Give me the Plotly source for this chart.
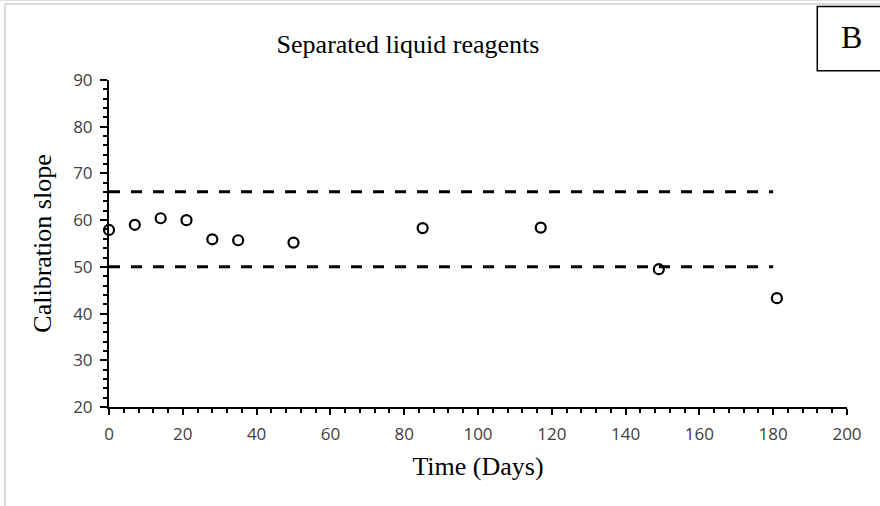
import plotly.graph_objects as go

# Data
days = [0, 7, 14, 21, 28, 35, 50, 85, 117, 149, 181]
slope = [57.9, 59.0, 60.4, 60.0, 55.9, 55.7, 55.2, 58.3, 58.4, 49.5, 43.3]
limit_x = [0, 180]
upper_limit = [66.1, 66.1]
lower_limit = [50.0, 50.0]

title_text = "Separated liquid reagents"
x_title = "Time (Days)"
y_title = "Calibration slope"
panel_label = "B"

W, H = 880, 506
L, R, T, B = 109.3, 33.3, 80.3, 99.3
pw = W - L - R
ph = H - T - B

def px(x):
    return (x - L) / pw

def py(y):
    return (H - B - y) / ph

serif = "Liberation Serif, Times New Roman, serif"
sans = "Open Sans, Noto Sans, sans-serif"

fig = go.Figure()
dash = "11px,11px"
fig.add_trace(go.Scatter(x=limit_x, y=upper_limit, mode="lines",
                         line=dict(color="black", width=3, dash=dash),
                         showlegend=False, hoverinfo="skip"))
fig.add_trace(go.Scatter(x=limit_x, y=lower_limit, mode="lines",
                         line=dict(color="black", width=3, dash=dash),
                         showlegend=False, hoverinfo="skip"))
fig.add_trace(go.Scatter(x=days, y=slope, mode="markers",
                         marker=dict(symbol="circle-open", size=10, color="black",
                                     line=dict(width=2.2, color="black")),
                         cliponaxis=False, showlegend=False))

fig.update_layout(
    width=W, height=H,
    margin=dict(l=L, r=R, t=T, b=B, pad=0),
    paper_bgcolor="white", plot_bgcolor="white",
    title=dict(text=title_text, x=408 / W, xanchor="center",
               y=1 - 44 / H, yanchor="middle",
               font=dict(family=serif, size=26, color="black")),
    xaxis=dict(range=[0, 200], tickmode="linear", tick0=0, dtick=20,
               showgrid=False, zeroline=False, showline=True,
               linecolor="black", linewidth=2,
               ticks="outside", ticklen=6, tickwidth=2, tickcolor="black",
               minor=dict(dtick=4, ticks="outside", ticklen=4, tickwidth=1.5,
                          tickcolor="black", showgrid=False),
               ticklabelstandoff=5,
               tickfont=dict(family=sans, size=17, color="#404040"),
               title=dict(text=x_title, standoff=12,
                          font=dict(family=serif, size=26, color="black"))),
    yaxis=dict(range=[20, 90], tickmode="linear", tick0=20, dtick=10,
               showgrid=False, zeroline=False, showline=True,
               linecolor="black", linewidth=2,
               ticks="outside", ticklen=7, tickwidth=2, tickcolor="black",
               minor=dict(dtick=2, ticks="outside", ticklen=4, tickwidth=1.5,
                          tickcolor="black", showgrid=False),
               ticklabelstandoff=4,
               tickfont=dict(family=sans, size=17, color="#404040"),
               title=dict(text=y_title, standoff=14,
                          font=dict(family=serif, size=26, color="black"))),
)

# decorative frame (light grey) and panel label box
grey = "#d9d9d9"
fig.add_shape(type="line", xref="paper", yref="paper",
              x0=px(0), x1=px(W), y0=py(0.5), y1=py(0.5),
              line=dict(color=grey, width=1.5))
fig.add_shape(type="line", xref="paper", yref="paper",
              x0=px(5), x1=px(W), y0=py(4.5), y1=py(4.5),
              line=dict(color=grey, width=2))
fig.add_shape(type="line", xref="paper", yref="paper",
              x0=px(5.5), x1=px(5.5), y0=py(4.5), y1=py(H),
              line=dict(color=grey, width=2))
fig.add_shape(type="rect", xref="paper", yref="paper",
              x0=px(817), x1=px(881), y0=py(71), y1=py(7),
              line=dict(color="black", width=1.5), fillcolor="white")
fig.add_annotation(text=panel_label, xref="paper", yref="paper",
                   x=px(851), y=py(37), xanchor="center", yanchor="middle",
                   showarrow=False, font=dict(family=serif, size=32, color="black"))

fig.write_html("out.html",
               config={"displayModeBar": False},
               post_script="document.body.style.margin='0px';document.body.style.overflow='hidden';")
